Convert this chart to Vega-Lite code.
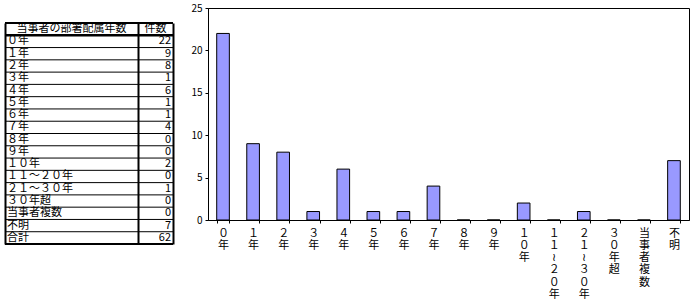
{
  "$schema": "https://vega.github.io/schema/vega-lite/v6.json",
  "padding": {"left": 3, "top": 2, "right": 0, "bottom": 0},
  "spacing": 12,
  "config": {
    "view": {"stroke": null},
    "font": "Noto Sans CJK JP",
    "axis": {"labelFont": "Noto Sans CJK JP", "labelColor": "black", "tickColor": "black", "domainColor": "black"},
    "text": {"font": "Noto Sans CJK JP", "fontSize": 11, "color": "black"}
  },
  "datasets": {
    "rows": [
      {"item": "０年", "count": 22},
      {"item": "１年", "count": 9},
      {"item": "２年", "count": 8},
      {"item": "３年", "count": 1},
      {"item": "４年", "count": 6},
      {"item": "５年", "count": 1},
      {"item": "６年", "count": 1},
      {"item": "７年", "count": 4},
      {"item": "８年", "count": 0},
      {"item": "９年", "count": 0},
      {"item": "１０年", "count": 2},
      {"item": "１１～２０年", "count": 0},
      {"item": "２１～３０年", "count": 1},
      {"item": "３０年超", "count": 0},
      {"item": "当事者複数", "count": 0},
      {"item": "不明", "count": 7},
      {"item": "合計", "count": 62}
    ]
  },
  "hconcat": [
    {
      "spacing": 0,
      "bounds": "flush",
      "hconcat": [
        {
          "width": 133,
          "height": 236,
          "layer": [
            {
              "data": {"name": "rows"},
              "mark": {"type": "rule", "color": "black", "strokeWidth": 1},
              "encoding": {
                "y": {
                  "field": "item", "type": "nominal", "bandPosition": 0,
                  "scale": {"domain": ["当事者の部署配属年数", "０年", "１年", "２年", "３年", "４年", "５年", "６年", "７年", "８年", "９年", "１０年", "１１～２０年", "２１～３０年", "３０年超", "当事者複数", "不明", "合計"], "range": [15, 236], "paddingInner": 0, "paddingOuter": 0},
                  "axis": {"orient": "left", "labels": false, "ticks": false, "domain": true, "domainWidth": 2, "title": null, "grid": false}
                }
              }
            },
            {
              "data": {"name": "rows"},
              "transform": [{"filter": "datum.item === '合計'"}],
              "mark": {"type": "rule", "color": "black", "strokeWidth": 2},
              "encoding": {"y": {"field": "item", "type": "nominal", "bandPosition": 1}}
            },
            {
              "data": {"name": "rows"},
              "mark": {"type": "text", "align": "left", "dx": 2, "baseline": "middle"},
              "encoding": {
                "y": {"field": "item", "type": "nominal"},
                "x": {"value": 0},
                "text": {"field": "item"}
              }
            },
            {
              "data": {"values": [{"item": "当事者の部署配属年数"}]},
              "mark": {"type": "rule", "color": "black", "strokeWidth": 2},
              "encoding": {"y": {"field": "item", "type": "nominal", "bandPosition": 0}}
            },
            {
              "data": {"values": [{"item": "当事者の部署配属年数"}]},
              "mark": {"type": "rule", "color": "black", "strokeWidth": 2.5},
              "encoding": {"y": {"field": "item", "type": "nominal", "bandPosition": 1}}
            },
            {
              "data": {"values": [{"item": "当事者の部署配属年数"}]},
              "mark": {"type": "text", "align": "center", "baseline": "middle"},
              "encoding": {"y": {"field": "item", "type": "nominal"}, "text": {"field": "item"}}
            }
          ]
        },
        {
          "width": 35,
          "height": 236,
          "layer": [
            {
              "data": {"name": "rows"},
              "mark": {"type": "rule", "color": "black", "strokeWidth": 1},
              "encoding": {
                "y": {
                  "field": "item", "type": "nominal", "bandPosition": 0,
                  "scale": {"domain": ["当事者の部署配属年数", "０年", "１年", "２年", "３年", "４年", "５年", "６年", "７年", "８年", "９年", "１０年", "１１～２０年", "２１～３０年", "３０年超", "当事者複数", "不明", "合計"], "range": [15, 236], "paddingInner": 0, "paddingOuter": 0},
                  "axis": {"orient": "left", "labels": false, "ticks": false, "domain": true, "domainWidth": 2, "title": null, "grid": false}
                }
              }
            },
            {
              "data": {"name": "rows"},
              "mark": {"type": "text", "align": "right", "dx": -2, "baseline": "middle"},
              "encoding": {
                "y": {"field": "item", "type": "nominal"},
                "x": {"value": 35},
                "text": {"field": "count"}
              }
            },
            {
              "data": {"name": "rows"},
              "transform": [{"filter": "datum.item === '合計'"}],
              "mark": {"type": "rule", "color": "black", "strokeWidth": 2},
              "encoding": {"y": {"field": "item", "type": "nominal", "bandPosition": 1}}
            },
            {
              "data": {"values": [{"item": "当事者の部署配属年数", "head": "件数"}]},
              "mark": {"type": "rule", "color": "black", "strokeWidth": 2},
              "encoding": {"y": {"field": "item", "type": "nominal", "bandPosition": 0}}
            },
            {
              "data": {"values": [{"item": "当事者の部署配属年数", "head": "件数"}]},
              "mark": {"type": "rule", "color": "black", "strokeWidth": 2.5},
              "encoding": {"y": {"field": "item", "type": "nominal", "bandPosition": 1}}
            },
            {
              "data": {"values": [{"item": "当事者の部署配属年数", "head": "件数"}]},
              "mark": {"type": "text", "align": "center", "baseline": "middle"},
              "encoding": {"y": {"field": "item", "type": "nominal"}, "text": {"field": "head"}}
            }
          ]
        },
        {
          "width": 1,
          "height": 236,
          "data": {"name": "rows"},
          "mark": {"type": "rule", "color": "black", "strokeWidth": 0},
          "encoding": {
            "y": {
              "field": "item", "type": "nominal", "bandPosition": 0,
              "scale": {"domain": ["当事者の部署配属年数", "０年", "１年", "２年", "３年", "４年", "５年", "６年", "７年", "８年", "９年", "１０年", "１１～２０年", "２１～３０年", "３０年超", "当事者複数", "不明", "合計"], "range": [15, 236], "paddingInner": 0, "paddingOuter": 0},
              "axis": {"orient": "left", "labels": false, "ticks": false, "domain": true, "domainWidth": 2, "title": null, "grid": false}
            }
          }
        }
      ]
    },
    {
      "width": 481,
      "height": 212,
      "view": {"stroke": "black", "strokeWidth": 1},
      "data": {"name": "rows"},
      "transform": [{"filter": "datum.item !== '合計'"}],
      "mark": {"type": "bar", "fill": "#9999FF", "stroke": "black", "strokeWidth": 1},
      "encoding": {
        "x": {
          "field": "item", "type": "nominal", "sort": null,
          "scale": {"paddingInner": 0.58, "paddingOuter": 0.29},
          "axis": {"title": null, "labelAngle": 0, "labelExpr": "split(replace(datum.label, '～', '≀'), '')", "labelFontSize": 11, "labelLineHeight": 12.3, "labelPadding": 4, "tickBand": "extent", "tickSize": 3, "labelBaseline": "top"}
        },
        "y": {
          "field": "count", "type": "quantitative",
          "scale": {"domain": [0, 25]},
          "axis": {"values": [0, 5, 10, 15, 20, 25], "grid": false, "title": null, "tickSize": 3, "labelPadding": 3, "labelFontSize": 10, "minExtent": 20, "maxExtent": 20}
        }
      }
    }
  ]
}
